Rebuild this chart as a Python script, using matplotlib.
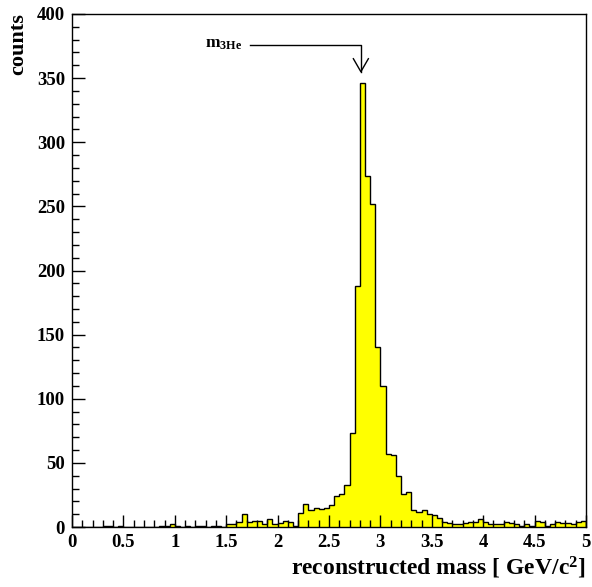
import numpy as np
import matplotlib
matplotlib.use("Agg")
import matplotlib.pyplot as plt
from matplotlib.ticker import MultipleLocator

# ---- data ----
bin_edges = np.linspace(0.0, 5.0, 101)
counts_low = [0, 0, 0, 0, 0, 0, 1, 1, 0, 1,
              0, 0, 0, 0, 0, 0, 0, 1, 1, 2,
              1, 0, 1, 0, 1, 1, 0, 1, 1, 0]
counts_rise = [2, 2, 4, 10, 4, 5, 5, 2, 6, 2, 3, 5, 4, 1]
counts_pre = [11, 18, 13, 15, 14, 15, 17, 24, 26, 33, 73, 188]
counts_peak = [346, 274, 252, 140, 110, 57, 56, 40, 26, 27, 13, 12, 13, 10, 9, 7]
counts_tail = [4, 3, 2, 2, 3, 4, 4, 6, 4, 2, 2, 2, 4, 3, 2, 1, 2, 1, 5, 4,
               1, 2, 4, 3, 3, 2, 4, 5]
counts = np.array(counts_low + counts_rise + counts_pre + counts_peak + counts_tail)

x_ticks = [0, 0.5, 1, 1.5, 2, 2.5, 3, 3.5, 4, 4.5, 5]
x_tick_labels = ["0", "0.5", "1", "1.5", "2", "2.5", "3", "3.5", "4", "4.5", "5"]
y_ticks = [0, 50, 100, 150, 200, 250, 300, 350, 400]

peak_mass = 2.81          # arrow target (mass of 3He)
arrow_start_x = 1.73
arrow_level = 376
arrow_tip_y = 355

# ---- style ----
plt.rcParams['font.family'] = ['Liberation Serif', 'DejaVu Serif']
plt.rcParams['font.weight'] = 'bold'
plt.rcParams['mathtext.fontset'] = 'custom'
plt.rcParams['mathtext.rm'] = 'Liberation Serif:bold'
plt.rcParams['mathtext.bf'] = 'Liberation Serif:bold'
plt.rcParams['mathtext.it'] = 'Liberation Serif:bold'

fig = plt.figure(figsize=(5.92, 5.87), dpi=100)
ax = fig.add_axes([72/592, 1-527/587, (586-72)/592, (527-14)/587])

ax.stairs(counts, bin_edges, fill=True, color='#ffff00', linewidth=0)
ax.stairs(counts, bin_edges, fill=False, color='black', linewidth=1.0)

ax.set_xlim(0, 5)
ax.set_ylim(0, 400)

ax.set_xticks(x_ticks)
ax.set_xticklabels(x_tick_labels)
ax.set_yticks(y_ticks)
ax.xaxis.set_minor_locator(MultipleLocator(0.1))
ax.yaxis.set_minor_locator(MultipleLocator(10))
ax.tick_params(which='both', direction='in', top=False, right=False,
               width=1, color='black')
ax.tick_params(which='major', length=9, labelsize=13.5, pad=5)
ax.tick_params(which='minor', length=5)
for lab in ax.get_xticklabels() + ax.get_yticklabels():
    lab.set_fontweight('bold')
for s in ax.spines.values():
    s.set_linewidth(1.0)

fig.text(586/592, 1-575/587, r'reconstructed mass [ GeV/c$^{2}$]',
         ha='right', va='baseline', fontsize=17, fontweight='bold')
fig.text(18/592, 1-13/587, 'counts', rotation=90, ha='center', va='top',
         fontsize=16, fontweight='bold')

# arrow marking the 3He mass
ax.plot([arrow_start_x, peak_mass, peak_mass],
        [arrow_level, arrow_level, arrow_tip_y], color='black', lw=1.0)
hw = 7.5 / 102.8
hl = 13 / 1.2825
ax.plot([peak_mass - hw, peak_mass, peak_mass + hw],
        [arrow_tip_y + hl, arrow_tip_y, arrow_tip_y + hl], color='black', lw=1.0)
ax.text(1.29, 374, r'$\mathbf{m}_{\mathbf{3He}}$', fontsize=12.5, ha='left',
        va='baseline')

fig.savefig('out.png', dpi=100)
